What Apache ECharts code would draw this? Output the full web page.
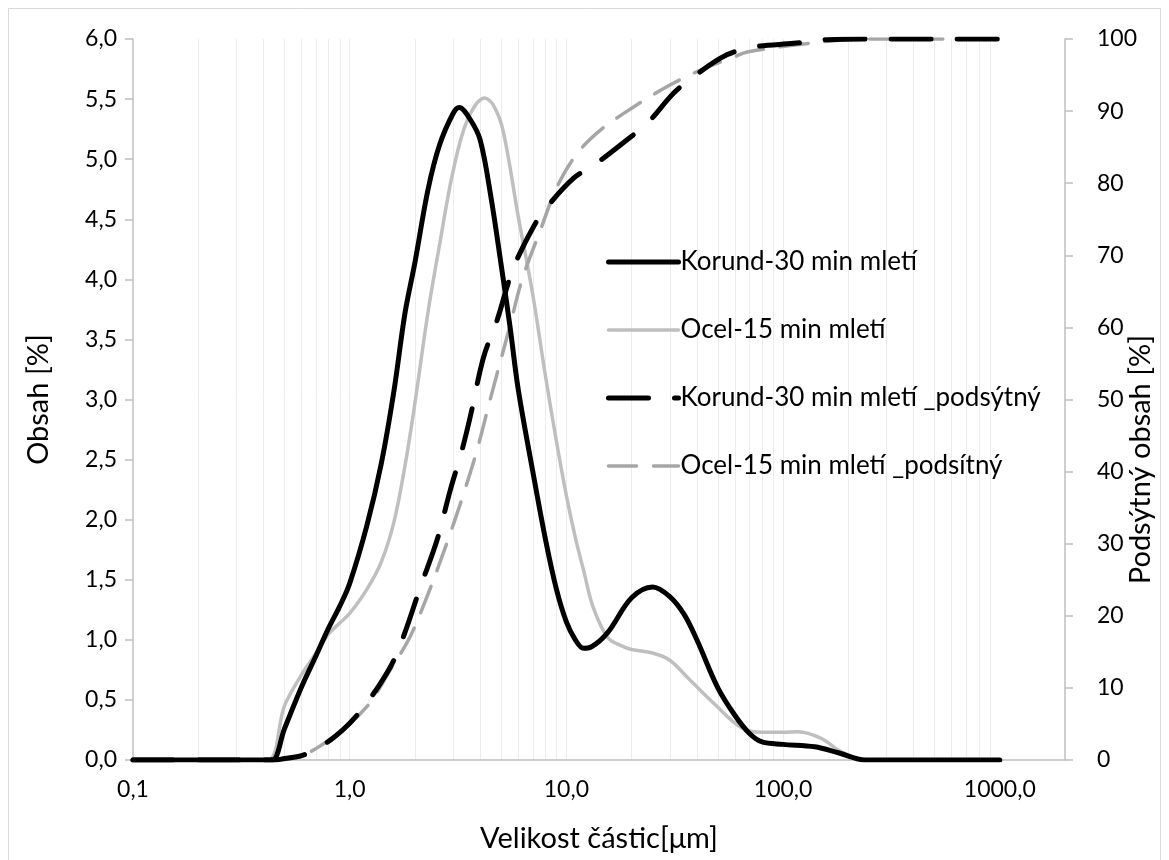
<!DOCTYPE html>
<html>
<head>
<meta charset="utf-8">
<script src="https://cdn.jsdelivr.net/npm/echarts@6/dist/echarts.min.js"></script>
<style>
html,body{margin:0;padding:0;background:#fff;}
#c{width:1169px;height:860px;}
</style>
</head>
<body>
<div id="c"></div>
<script>
// ---- data (x in µm) ----
const seriesNames = ['Korund-30 min mletí', 'Ocel-15 min mletí', 'Korund-30 min mletí _podsýtný', 'Ocel-15 min mletí _podsítný'];

const korundDistX = [0.1,0.2,0.3,0.4,0.44,0.5,0.6,0.7,0.8,0.9,1.0,1.2,1.4,1.6,1.8,2.0,2.3,2.6,3.0,3.2,3.6,4.0,4.5,5.0,5.5,6.0,7.0,8.0,9.0,10,11,12,13,15.5,20,25,30,35,40,50,60,70,80,100,140,180,240,300,500,1000];
const korundDist  = [0,0,0,0,0,0.26,0.61,0.87,1.10,1.28,1.47,1.95,2.47,3.07,3.72,4.14,4.75,5.12,5.38,5.43,5.33,5.16,4.67,4.12,3.60,3.08,2.40,1.84,1.42,1.15,1.00,0.93,0.94,1.06,1.35,1.44,1.36,1.21,1.00,0.60,0.37,0.22,0.15,0.13,0.11,0.06,0,0,0,0];

const ocelDistX = [0.1,0.2,0.3,0.42,0.5,0.6,0.7,0.8,0.9,1.0,1.2,1.4,1.6,1.8,2.0,2.3,2.6,3.0,3.5,4.2,4.6,5.1,6.0,7.0,8.0,9.0,10,11,12,13.3,15.5,18,20,25,30,37,48,64,80,100,117,150,185,240,300,500,1000];
const ocelDist  = [0,0,0,0,0.45,0.71,0.89,1.05,1.14,1.22,1.42,1.65,1.98,2.45,2.97,3.73,4.29,4.90,5.33,5.51,5.45,5.24,4.52,3.87,3.20,2.65,2.20,1.85,1.58,1.27,1.02,0.95,0.92,0.89,0.83,0.67,0.47,0.27,0.23,0.23,0.235,0.18,0.07,0,0,0,0];

const korundCumX = [0.1,0.2,0.3,0.4,0.45,0.5,0.6,0.73,0.85,1.0,1.2,1.54,1.77,2.12,2.53,2.91,3.3,3.6,4.15,4.79,5.32,5.71,7.06,8.14,10.8,13.4,19,23.6,31.3,38.7,55,73.5,112,160,243,500,1000];
const korundCum  = [0,0,0,0,0,0.2,0.6,1.84,3.2,5.1,7.9,12.9,17.1,24.0,30.5,37.4,43.0,47.6,55.9,61.0,65.6,68.4,74.0,76.7,80.7,82.5,86.0,88.3,92.5,94.8,97.8,98.9,99.4,99.9,100,100,100];

const ocelCumX = [0.1,0.2,0.3,0.4,0.45,0.59,0.84,1.2,1.54,1.9,2.27,2.81,3.36,3.87,4.45,5.5,6.24,7.59,9.06,11.2,14.4,20.5,29.2,41.6,59.3,68.4,116,198,300,1000];
const ocelCum  = [0,0,0,0,0,0.5,3.2,7.4,12.5,17.1,22.6,30.1,37.0,43.0,50.0,60.3,66.6,73.5,79.5,84.1,87.4,90.6,93.4,95.7,97.5,98.2,99.2,99.9,100,100];

// tick labels / grid values
const xLabelValues = [0.1, 1, 10, 100, 1000];
const xGridValues = [0.2,0.3,0.4,0.5,0.6,0.7,0.8,0.9,1,2,3,4,5,6,7,8,9,10,20,30,40,50,60,70,80,90,100,200,300,400,500,600,700,800,900];

function pairs(xs, ys) { return xs.map((x, i) => [x, ys[i]]); }
const comma1 = v => Number(v).toFixed(1).replace('.', ',');

const FONT = 'Lato';
const TITLE = 29, TICK = 23, LEG = 26;
const chart = echarts.init(document.getElementById('c'), null, {renderer: 'canvas'});
chart.setOption({
  animation: false,
  backgroundColor: '#ffffff',
  textStyle: {fontFamily: FONT, color: '#000'},
  graphic: [{
    type: 'rect', shape: {x: 8.5, y: 8.5, width: 1152, height: 860},
    style: {fill: 'none', stroke: '#d9d9d9', lineWidth: 1}, silent: true
  }],
  grid: {left: 133, right: 104, top: 39, bottom: 100, containLabel: false, outerBoundsMode: 'none'},
  legend: {
    orient: 'vertical', left: 601, top: 244, itemGap: 42,
    itemWidth: 70, itemHeight: 14,
    itemStyle: {opacity: 0},
    lineStyle: {width: 'inherit'},
    textStyle: {fontFamily: FONT, fontSize: LEG, color: '#000', padding: [0,0,0,-3]},
    data: seriesNames
  },
  xAxis: {
    type: 'log', logBase: 10, min: 0.1, max: 2000,
    name: 'Velikost částic[μm]', nameLocation: 'middle', nameGap: 64, nameMoveOverlap: false,
    nameTextStyle: {fontFamily: FONT, fontSize: TITLE, color: '#000'},
    axisLine: {show: true, lineStyle: {color: '#bfbfbf', width: 1.5}},
    axisTick: {show: false, customValues: xGridValues},
    axisLabel: {customValues: xLabelValues, formatter: comma1, fontSize: TICK, color: '#000', margin: 18, fontFamily: FONT},
    splitLine: {show: true, lineStyle: {color: '#ececec', width: 1}}
  },
  yAxis: [{
    type: 'value', min: 0, max: 6, interval: 0.5,
    name: 'Obsah [%]', nameLocation: 'middle', nameGap: 80, nameRotate: 90, nameMoveOverlap: false,
    nameTextStyle: {fontFamily: FONT, fontSize: TITLE, color: '#000'},
    axisLine: {show: true, lineStyle: {color: '#bfbfbf', width: 1.5}},
    axisTick: {show: true, length: 8, lineStyle: {color: '#bfbfbf', width: 1.5}},
    axisLabel: {formatter: comma1, fontSize: TICK, color: '#000', margin: 16, fontFamily: FONT},
    splitLine: {show: false}
  }, {
    type: 'value', min: 0, max: 100, interval: 10, position: 'right',
    name: 'Podsýtný obsah [%]', nameLocation: 'middle', nameGap: 61, nameRotate: 90, nameMoveOverlap: false,
    nameTextStyle: {fontFamily: FONT, fontSize: TITLE, color: '#000', padding: [0, 120, 0, 0]},
    axisLine: {show: true, lineStyle: {color: '#bfbfbf', width: 1.5}},
    axisTick: {show: true, length: 8, lineStyle: {color: '#bfbfbf', width: 1.5}},
    axisLabel: {fontSize: TICK, color: '#000', margin: 32, fontFamily: FONT},
    splitLine: {show: false}
  }],
  series: [{
    name: seriesNames[0], type: 'line', yAxisIndex: 0, data: pairs(korundDistX, korundDist),
    showSymbol: false, symbol: 'none', smooth: 0.35, z: 4,
    lineStyle: {color: '#000000', width: 5, cap: 'round', join: 'round'},
    itemStyle: {color: '#000000'}
  }, {
    name: seriesNames[1], type: 'line', yAxisIndex: 0, data: pairs(ocelDistX, ocelDist),
    showSymbol: false, symbol: 'none', smooth: 0.35, z: 3,
    lineStyle: {color: '#bfbfbf', width: 3.5, cap: 'round', join: 'round'},
    itemStyle: {color: '#bfbfbf'}
  }, {
    name: seriesNames[2], type: 'line', yAxisIndex: 1, data: pairs(korundCumX, korundCum),
    showSymbol: false, symbol: 'none', smooth: 0.35, z: 4,
    lineStyle: {color: '#000000', width: 5, type: [40, 26], cap: 'round', join: 'round'},
    itemStyle: {color: '#000000'}
  }, {
    name: seriesNames[3], type: 'line', yAxisIndex: 1, data: pairs(ocelCumX, ocelCum),
    showSymbol: false, symbol: 'none', smooth: 0.35, z: 3,
    lineStyle: {color: '#a6a6a6', width: 3.5, type: [28, 17], cap: 'round', join: 'round'},
    itemStyle: {color: '#a6a6a6'}
  }]
});
</script>
</body>
</html>
